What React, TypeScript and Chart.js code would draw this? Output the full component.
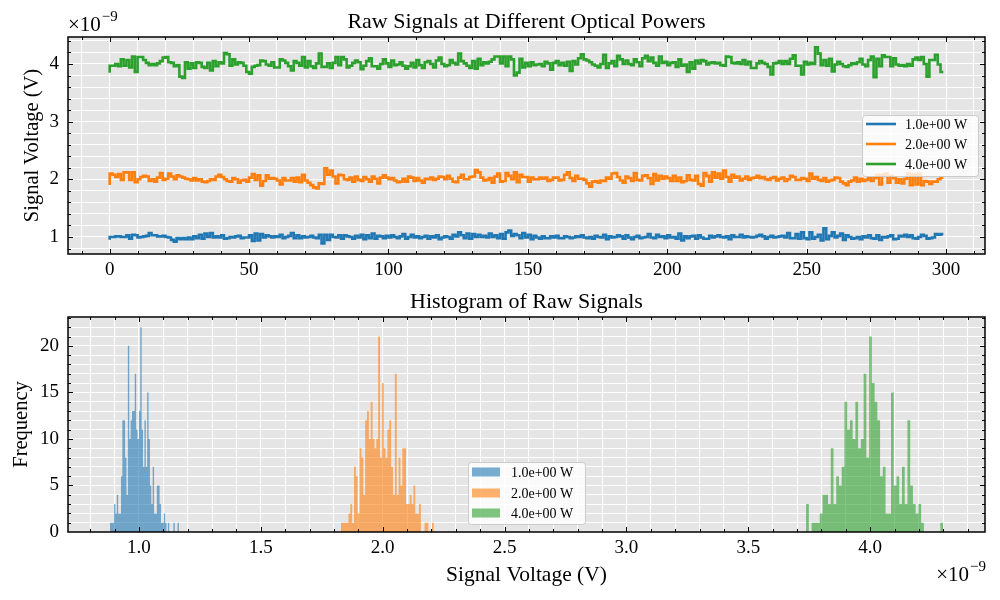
import { useEffect, useRef } from "react";
import { Chart, registerables, type Plugin } from "chart.js";

Chart.register(...registerables);

const FONT = "'Liberation Serif', 'Times New Roman', serif";

// top panel x axis: sample number
const sampleNo = Array.from({ length: 300 }, (_, i) => i);
const powerLabels = ["1.0e+00 W", "2.0e+00 W", "4.0e+00 W"];
const powerColors = ["#1f77b4", "#ff7f0e", "#2ca02c"];
const histColors = ["rgba(31,119,180,0.6)", "rgba(255,127,14,0.6)", "rgba(44,160,44,0.6)"];

// raw signals, in units of 1e-9 V
const signal1W = [
  0.95, 1.0, 1.0, 1.01, 1.01, 1.0, 1.0, 1.03, 0.97, 1.04, 1.03, 0.99, 1.0, 1.01, 1.02, 1.07, 1.03, 1.03, 1.01, 1.01,
  1.02, 1.0, 0.99, 0.95, 0.92, 0.98, 0.96, 0.98, 0.96, 0.99, 0.96, 1.01, 0.98, 1.04, 0.97, 1.06, 1.0, 1.07, 0.99, 1.01,
  0.99, 1.03, 0.97, 0.98, 1.0, 0.99, 1.01, 1.02, 0.98, 0.99, 0.99, 1.03, 0.93, 1.06, 0.94, 1.05, 0.99, 1.03, 1.01, 0.99,
  1.01, 1.0, 1.04, 0.98, 1.0, 1.02, 1.07, 0.98, 1.03, 0.98, 1.01, 0.99, 1.0, 1.02, 0.99, 0.98, 1.04, 0.89, 1.04, 0.95,
  1.04, 1.0, 0.99, 1.03, 0.97, 1.03, 1.01, 1.0, 0.97, 1.02, 0.99, 1.04, 0.96, 1.03, 0.98, 1.06, 0.97, 1.02, 1.01, 0.98,
  1.02, 0.99, 1.03, 1.0, 0.98, 1.01, 1.05, 0.97, 1.0, 1.04, 0.99, 1.01, 0.98, 1.0, 1.02, 0.97, 1.01, 0.99, 1.03, 0.96,
  0.99, 1.01, 1.0, 0.97, 1.04, 1.01, 1.08, 1.03, 0.98, 1.06, 0.97, 1.05, 1.0, 1.04, 1.0, 1.02, 0.99, 1.06, 1.0, 1.03,
  0.98, 1.05, 0.97, 1.08, 1.11, 1.02, 1.05, 1.03, 0.98, 1.07, 0.99, 1.04, 0.96, 1.02, 0.99, 0.97, 1.01, 0.98, 0.98, 1.01,
  0.99, 1.02, 0.98, 0.98, 1.01, 1.0, 0.98, 0.99, 1.01, 1.0, 1.03, 0.99, 0.98, 1.0, 0.97, 1.02, 1.0, 0.99, 1.04, 0.96,
  1.01, 0.99, 1.0, 1.03, 1.01, 0.97, 1.03, 0.99, 0.96, 1.0, 1.02, 0.98, 0.99, 1.0, 1.05, 0.99, 0.98, 1.04, 1.0, 1.01,
  0.98, 1.03, 0.99, 1.0, 0.97, 1.06, 0.94, 1.01, 0.98, 1.01, 1.02, 0.97, 1.03, 0.99, 0.97, 0.97, 1.02, 0.99, 1.01, 1.03,
  1.0, 0.99, 1.01, 0.96, 1.03, 1.0, 1.0, 1.04, 0.99, 1.01, 1.0, 0.99, 1.0, 1.02, 1.04, 1.01, 0.97, 1.0, 1.02, 0.99,
  1.0, 1.01, 1.02, 0.99, 1.07, 0.98, 0.98, 1.05, 0.97, 1.08, 0.98, 0.96, 1.08, 0.97, 1.0, 1.04, 0.94, 1.15, 0.96, 1.02,
  1.08, 0.99, 1.02, 1.06, 0.95, 1.03, 1.0, 0.97, 0.98, 1.0, 0.96, 1.01, 0.99, 1.03, 0.98, 0.97, 1.03, 0.95, 1.0, 0.99,
  1.01, 1.03, 0.96, 0.97, 1.02, 1.01, 1.04, 1.0, 1.03, 0.98, 0.97, 1.0, 1.04, 1.02, 0.97, 0.98, 0.99, 1.05, 1.04, 1.05,
];

const signal2W = [
  1.9, 2.1, 2.08, 2.04, 2.09, 1.99, 2.12, 2.12, 1.99, 2.12, 1.95, 2.0, 2.04, 2.06, 2.05, 1.97, 2.0, 1.96, 2.03, 2.11,
  1.99, 2.01, 2.1, 2.05, 2.0, 2.07, 2.05, 2.03, 2.01, 2.0, 1.98, 2.02, 1.98, 2.0, 1.96, 1.95, 1.97, 2.0, 1.99, 2.05,
  2.08, 2.04, 2.0, 1.97, 1.96, 2.02, 2.0, 1.94, 1.98, 1.99, 1.96, 2.03, 2.09, 1.99, 2.07, 1.89, 1.97, 2.07, 2.01, 2.02,
  2.01, 1.98, 1.91, 2.02, 1.98, 1.98, 2.02, 1.96, 2.03, 1.95, 2.08, 1.98, 1.94, 1.9, 1.86, 1.84, 1.93, 1.92, 2.19, 2.08,
  2.15, 2.05, 1.93, 2.08, 2.07, 2.0, 1.99, 2.03, 1.96, 2.05, 1.99, 1.97, 2.04, 2.0, 1.96, 2.05, 2.01, 1.93, 2.03, 2.07,
  2.03, 2.0, 2.02, 1.98, 1.95, 1.96, 2.01, 1.96, 2.05, 2.03, 1.97, 2.02, 1.98, 1.94, 2.01, 2.0, 2.03, 1.99, 2.01, 2.05,
  2.04, 2.0, 2.06, 2.01, 1.96, 1.95, 2.03, 2.08, 2.0, 2.0, 2.04, 2.05, 2.16, 2.12, 2.03, 1.98, 1.99, 2.02, 1.94, 2.05,
  2.1, 1.96, 1.97, 2.11, 2.06, 2.0, 2.12, 1.95, 2.08, 2.04, 2.04, 1.96, 2.03, 2.0, 2.0, 2.03, 2.01, 2.03, 1.97, 1.99,
  2.03, 2.03, 1.98, 1.99, 2.08, 2.12, 2.02, 1.97, 2.06, 2.01, 2.01, 1.99, 1.93, 1.87, 1.96, 1.97, 1.94, 1.98, 1.97, 2.03,
  2.01, 2.1, 2.11, 2.04, 1.98, 1.94, 2.05, 2.02, 1.97, 2.11, 1.99, 1.98, 2.06, 2.07, 2.02, 1.92, 2.09, 1.98, 2.06, 2.01,
  2.05, 2.02, 1.97, 2.06, 1.97, 2.03, 1.95, 1.97, 2.07, 1.99, 1.98, 2.06, 1.92, 1.89, 2.11, 2.06, 1.96, 2.12, 2.03, 2.1,
  2.01, 2.15, 2.04, 1.96, 2.08, 2.03, 2.05, 1.98, 2.01, 2.05, 1.99, 2.02, 2.03, 2.06, 2.02, 2.04, 2.0, 1.99, 2.02, 2.04,
  1.98, 2.01, 2.03, 1.97, 2.0, 2.06, 2.04, 1.99, 1.99, 2.02, 2.01, 1.97, 2.1, 2.01, 2.04, 1.99, 1.97, 2.02, 1.96, 1.98,
  1.99, 2.03, 2.02, 1.96, 1.93, 1.9, 1.96, 1.98, 2.03, 1.96, 2.01, 1.97, 1.99, 2.03, 1.97, 2.02, 2.08, 1.91, 2.08, 2.1,
  1.94, 2.06, 2.02, 1.94, 2.0, 1.93, 2.01, 2.1, 1.9, 2.09, 1.91, 2.1, 1.9, 1.97, 1.96, 1.92, 1.96, 1.96, 2.0, 2.03,
];

const signal4W = [
  3.85, 3.97, 3.97, 4.0, 3.96, 4.08, 3.97, 4.07, 3.94, 4.13, 3.86, 4.12, 4.12, 4.07, 4.02, 3.98, 4.0, 3.98, 4.01, 4.05,
  4.11, 4.12, 4.03, 4.02, 3.96, 3.98, 3.78, 3.76, 4.03, 3.92, 4.01, 3.93, 4.03, 4.02, 3.95, 3.93, 4.02, 3.89, 4.05, 3.96,
  4.03, 4.01, 4.19, 4.17, 3.97, 4.08, 3.99, 4.03, 4.02, 3.97, 3.86, 3.83, 3.95, 3.97, 3.98, 4.06, 4.05, 3.99, 3.97, 4.03,
  3.94, 3.94, 4.08, 4.06, 4.02, 3.96, 3.89, 4.05, 4.02, 3.97, 4.12, 3.94, 4.05, 3.96, 3.93, 4.01, 4.18, 3.95, 3.95, 4.01,
  3.93, 4.02, 4.12, 3.98, 4.12, 4.08, 3.94, 3.97, 4.02, 4.06, 4.03, 3.91, 3.97, 4.05, 4.1, 3.96, 3.96, 3.92, 4.0, 4.08,
  4.01, 3.95, 4.06, 3.98, 3.99, 4.03, 3.97, 3.92, 3.96, 4.02, 3.94, 4.07, 3.98, 3.93, 4.03, 4.05, 4.0, 3.94, 4.06, 4.11,
  4.0, 3.96, 3.98, 4.07, 4.02, 3.99, 4.18, 4.05, 4.01, 3.97, 3.93, 4.05, 3.92, 4.09, 3.98, 4.03, 4.01, 4.04, 4.08, 4.13,
  4.13, 4.01, 4.13, 3.96, 4.13, 4.08, 3.8, 3.85, 4.09, 3.94, 4.02, 3.96, 4.03, 3.98, 3.99, 4.0, 3.96, 4.04, 4.01, 3.9,
  4.02, 4.05, 3.98, 4.02, 3.97, 4.04, 3.88, 4.05, 3.99, 4.1, 4.17, 4.08, 4.06, 4.03, 3.99, 3.97, 3.94, 4.0, 4.16, 3.93,
  4.01, 4.05, 3.96, 4.14, 4.08, 4.0, 4.06, 4.0, 3.98, 4.08, 4.03, 3.96, 4.1, 4.14, 4.05, 4.11, 4.02, 3.97, 4.13, 4.02,
  4.04, 3.98, 4.02, 4.03, 3.95, 4.08, 3.97, 3.99, 3.86, 4.03, 3.92, 4.06, 4.01, 4.07, 4.05, 3.99, 4.02, 4.03, 4.01, 4.02,
  3.98, 3.97, 4.13, 4.12, 4.02, 4.01, 4.03, 4.0, 4.07, 3.99, 4.04, 3.93, 3.93, 4.01, 4.05, 4.02, 4.0, 3.95, 3.82, 4.01,
  4.02, 4.05, 4.0, 4.05, 4.0, 4.09, 4.15, 3.97, 3.97, 3.82, 4.04, 3.99, 4.02, 4.0, 4.29, 4.18, 3.98, 4.07, 3.97, 4.09,
  3.87, 3.99, 4.04, 4.0, 3.96, 3.95, 3.98, 4.01, 4.0, 4.03, 4.09, 3.99, 3.96, 4.07, 4.13, 3.77, 4.09, 3.96, 4.15, 4.12,
  4.12, 3.96, 4.1, 3.99, 3.97, 3.98, 3.96, 4.0, 3.97, 4.08, 4.11, 4.07, 4.12, 4.0, 3.78, 4.07, 4.07, 4.16, 3.99, 3.86,
];

// histograms: 50 bins spanning [low, high] of each signal, in 1e-9 V
const histRange1W = [0.881, 1.164];
const histRange2W = [1.829, 2.21];
const histRange4W = [3.737, 4.299];
const histCounts1W = [
  1, 1, 1, 3, 2, 4, 2, 2, 6, 12, 12, 8, 4, 20, 10, 12, 13, 13, 17, 11,
  10, 13, 22, 11, 7, 12, 7, 15, 10, 5, 3, 7, 2, 2, 5, 5, 3, 1, 1, 2,
  1, 0, 1, 0, 0, 0, 1, 0, 0, 1,
];
const histCounts2W = [
  1, 1, 1, 1, 2, 3, 1, 7, 6, 2, 9, 8, 4, 12, 13, 10, 14, 10, 9, 10,
  21, 8, 16, 9, 8, 11, 12, 7, 4, 17, 4, 8, 5, 9, 9, 3, 3, 4, 3, 5,
  2, 2, 3, 0, 0, 1, 1, 0, 0, 1,
];
const histCounts4W = [
  3, 0, 1, 1, 1, 2, 4, 4, 3, 9, 3, 6, 5, 7, 14, 11, 12, 10, 14, 9,
  10, 17, 8, 21, 16, 14, 12, 6, 7, 2, 2, 15, 5, 6, 3, 7, 3, 12, 5, 3,
  2, 3, 1, 0, 0, 0, 0, 0, 0, 1,
];

const signals = [signal1W, signal2W, signal4W];
const histRanges = [histRange1W, histRange2W, histRange4W];
const histCounts = [histCounts1W, histCounts2W, histCounts4W];

// step outline of one histogram: left edge of each bin carries its count
function histPoints(range: number[], counts: number[]) {
  const [lo, hi] = range;
  const w = (hi - lo) / counts.length;
  const pts = counts.map((c, k) => ({ x: lo + k * w, y: c }));
  pts.push({ x: hi, y: 0 });
  return pts;
}

interface TextItem {
  text: string;
  x: number;
  y: number;
  size: number;
  rotate?: boolean;
}
interface LegendBox {
  x: number;
  y: number;
  w: number;
  h: number;
  rows: number[];
  kind: "line" | "patch";
}

function decor(texts: TextItem[], exp: { x: number; y: number; right: boolean }, legend: LegendBox): Plugin<"line"> {
  return {
    id: "decor",
    beforeDraw(chart) {
      const { ctx, chartArea: a } = chart;
      ctx.save();
      ctx.fillStyle = "#e5e5e5";
      ctx.fillRect(a.left, a.top, a.right - a.left, a.bottom - a.top);
      ctx.restore();
    },
    afterDraw(chart) {
      const { ctx, chartArea: a } = chart;
      const xs = chart.scales.x;
      const ys = chart.scales.y;
      ctx.save();
      // inward ticks on all four sides
      ctx.strokeStyle = "#000";
      ctx.lineWidth = 1;
      ctx.beginPath();
      for (const t of xs.ticks) {
        const px = Math.round(xs.getPixelForValue(t.value)) + 0.5;
        if (px < a.left || px > a.right) continue;
        const len = t.label ? 5 : 3;
        ctx.moveTo(px, a.bottom);
        ctx.lineTo(px, a.bottom - len);
        ctx.moveTo(px, a.top);
        ctx.lineTo(px, a.top + len);
      }
      for (const t of ys.ticks) {
        const py = Math.round(ys.getPixelForValue(t.value)) + 0.5;
        if (py < a.top || py > a.bottom) continue;
        const len = t.label ? 5 : 3;
        ctx.moveTo(a.left, py);
        ctx.lineTo(a.left + len, py);
        ctx.moveTo(a.right, py);
        ctx.lineTo(a.right - len, py);
      }
      ctx.stroke();
      ctx.lineWidth = 1.5;
      ctx.strokeRect(a.left, a.top, a.right - a.left, a.bottom - a.top);

      // titles and axis labels
      ctx.fillStyle = "#000";
      ctx.textAlign = "center";
      for (const t of texts) {
        ctx.font = `${t.size}px ${FONT}`;
        if (t.rotate) {
          ctx.save();
          ctx.translate(t.x, t.y);
          ctx.rotate(-Math.PI / 2);
          ctx.textBaseline = "middle";
          ctx.fillText(t.text, 0, 0);
          ctx.restore();
        } else {
          ctx.textBaseline = "alphabetic";
          ctx.fillText(t.text, t.x, t.y);
        }
      }

      // scale factor label
      ctx.textAlign = "left";
      ctx.textBaseline = "alphabetic";
      ctx.font = `21px ${FONT}`;
      const wMain = ctx.measureText("×10").width;
      ctx.font = `15px ${FONT}`;
      const wSup = ctx.measureText("−9").width;
      const x0 = exp.right ? exp.x - wMain - wSup : exp.x;
      ctx.font = `21px ${FONT}`;
      ctx.fillText("×10", x0, exp.y);
      ctx.font = `15px ${FONT}`;
      ctx.fillText("−9", x0 + wMain + 1, exp.y - 10);

      // legend
      ctx.beginPath();
      ctx.roundRect(legend.x + 0.5, legend.y + 0.5, legend.w, legend.h, 3);
      ctx.fillStyle = "rgba(255,255,255,0.8)";
      ctx.fill();
      ctx.strokeStyle = "#cccccc";
      ctx.lineWidth = 1;
      ctx.stroke();
      chart.data.datasets.forEach((ds, i) => {
        const cy = legend.rows[i];
        if (legend.kind === "line") {
          ctx.strokeStyle = ds.borderColor as string;
          ctx.lineWidth = 2.6;
          ctx.beginPath();
          ctx.moveTo(legend.x + 4, cy);
          ctx.lineTo(legend.x + 34, cy);
          ctx.stroke();
        } else {
          ctx.fillStyle = ds.backgroundColor as string;
          ctx.fillRect(legend.x + 4, cy - 4.5, 28, 9);
        }
        ctx.fillStyle = "#000";
        ctx.font = `14px ${FONT}`;
        ctx.textBaseline = "middle";
        ctx.fillText(ds.label ?? "", legend.x + 43, cy + 1);
      });
      ctx.restore();
    },
  };
}

const isMultiple = (v: number, m: number) => Math.abs(v / m - Math.round(v / m)) < 1e-6;

function axis(min: number, max: number, step: number, label: (v: number) => string, fit: (s: any) => void, pad: number) {
  return {
    type: "linear" as const,
    min,
    max,
    afterFit: fit,
    grid: { color: "#ffffff", lineWidth: 1, drawTicks: false },
    border: { display: false },
    ticks: {
      stepSize: step,
      includeBounds: false,
      autoSkip: false,
      maxRotation: 0,
      padding: pad,
      color: "#000",
      font: { family: FONT, size: 19 },
      callback: (v: number | string) => label(Number(v)),
    },
  };
}

function SignalChart() {
  const canvasRef = useRef<HTMLCanvasElement | null>(null);
  useEffect(() => {
    if (!canvasRef.current) return;
    const chart = new Chart(canvasRef.current, {
      type: "line",
      data: {
        datasets: signals.map((s, i) => ({
          label: powerLabels[i],
          data: s.map((v, k) => ({ x: sampleNo[k], y: v })),
          borderColor: powerColors[i],
          borderWidth: 2.6,
          pointRadius: 0,
          stepped: "after" as const,
          fill: false,
        })),
      },
      options: {
        animation: false,
        responsive: false,
        events: [],
        layout: { padding: { top: 37, right: 15, left: 0, bottom: 0 } },
        plugins: { legend: { display: false }, tooltip: { enabled: false } },
        scales: {
          x: axis(-14.95, 313.95, 10, (v) => (isMultiple(v, 50) ? String(Math.round(v)) : ""), (s) => { s.height = 36; }, 5),
          y: axis(0.705, 4.468, 0.2, (v) => (isMultiple(v, 1) ? String(Math.round(v)) : ""), (s) => { s.width = 68; }, 9),
        },
      },
      plugins: [
        decor(
          [
            { text: "Raw Signals at Different Optical Powers", x: 526.5, y: 28, size: 22 },
            { text: "Signal Voltage (V)", x: 33, y: 145.5, size: 20.5, rotate: true },
          ],
          { x: 68, y: 31, right: false },
          { x: 862, y: 115, w: 116, h: 61, rows: [124, 144, 164], kind: "line" },
        ),
      ],
    });
    return () => chart.destroy();
  }, []);
  return <canvas ref={canvasRef} width={1000} height={290} style={{ display: "block" }} />;
}

function HistogramChart() {
  const canvasRef = useRef<HTMLCanvasElement | null>(null);
  useEffect(() => {
    if (!canvasRef.current) return;
    const chart = new Chart(canvasRef.current, {
      type: "line",
      data: {
        datasets: histCounts.map((c, i) => ({
          label: powerLabels[i],
          data: histPoints(histRanges[i], c),
          backgroundColor: histColors[i],
          borderColor: "rgba(0,0,0,0)",
          borderWidth: 0,
          pointRadius: 0,
          stepped: "before" as const,
          fill: "origin",
        })),
      },
      options: {
        animation: false,
        responsive: false,
        events: [],
        layout: { padding: { top: 27, right: 15, left: 0, bottom: 0 } },
        plugins: { legend: { display: false }, tooltip: { enabled: false } },
        scales: {
          x: axis(0.709, 4.471, 0.1, (v) => (isMultiple(v, 0.5) ? v.toFixed(1) : ""), (s) => { s.height = 68; }, 5),
          y: axis(0, 23.1, 1, (v) => (isMultiple(v, 5) ? String(Math.round(v)) : ""), (s) => { s.width = 68; }, 9),
        },
      },
      plugins: [
        decor(
          [
            { text: "Histogram of Raw Signals", x: 526.5, y: 18, size: 22 },
            { text: "Frequency", x: 22, y: 134.5, size: 20.5, rotate: true },
            { text: "Signal Voltage (V)", x: 526.5, y: 291, size: 21.5 },
          ],
          { x: 985, y: 291, right: true },
          { x: 468, y: 172, w: 117, h: 62, rows: [182, 203, 223], kind: "patch" },
        ),
      ],
    });
    return () => chart.destroy();
  }, []);
  return <canvas ref={canvasRef} width={1000} height={310} style={{ display: "block" }} />;
}

export default function App() {
  return (
    <div style={{ position: "absolute", left: 0, top: 0, width: 1000, height: 600, background: "#fff" }}>
      <SignalChart />
      <HistogramChart />
    </div>
  );
}
